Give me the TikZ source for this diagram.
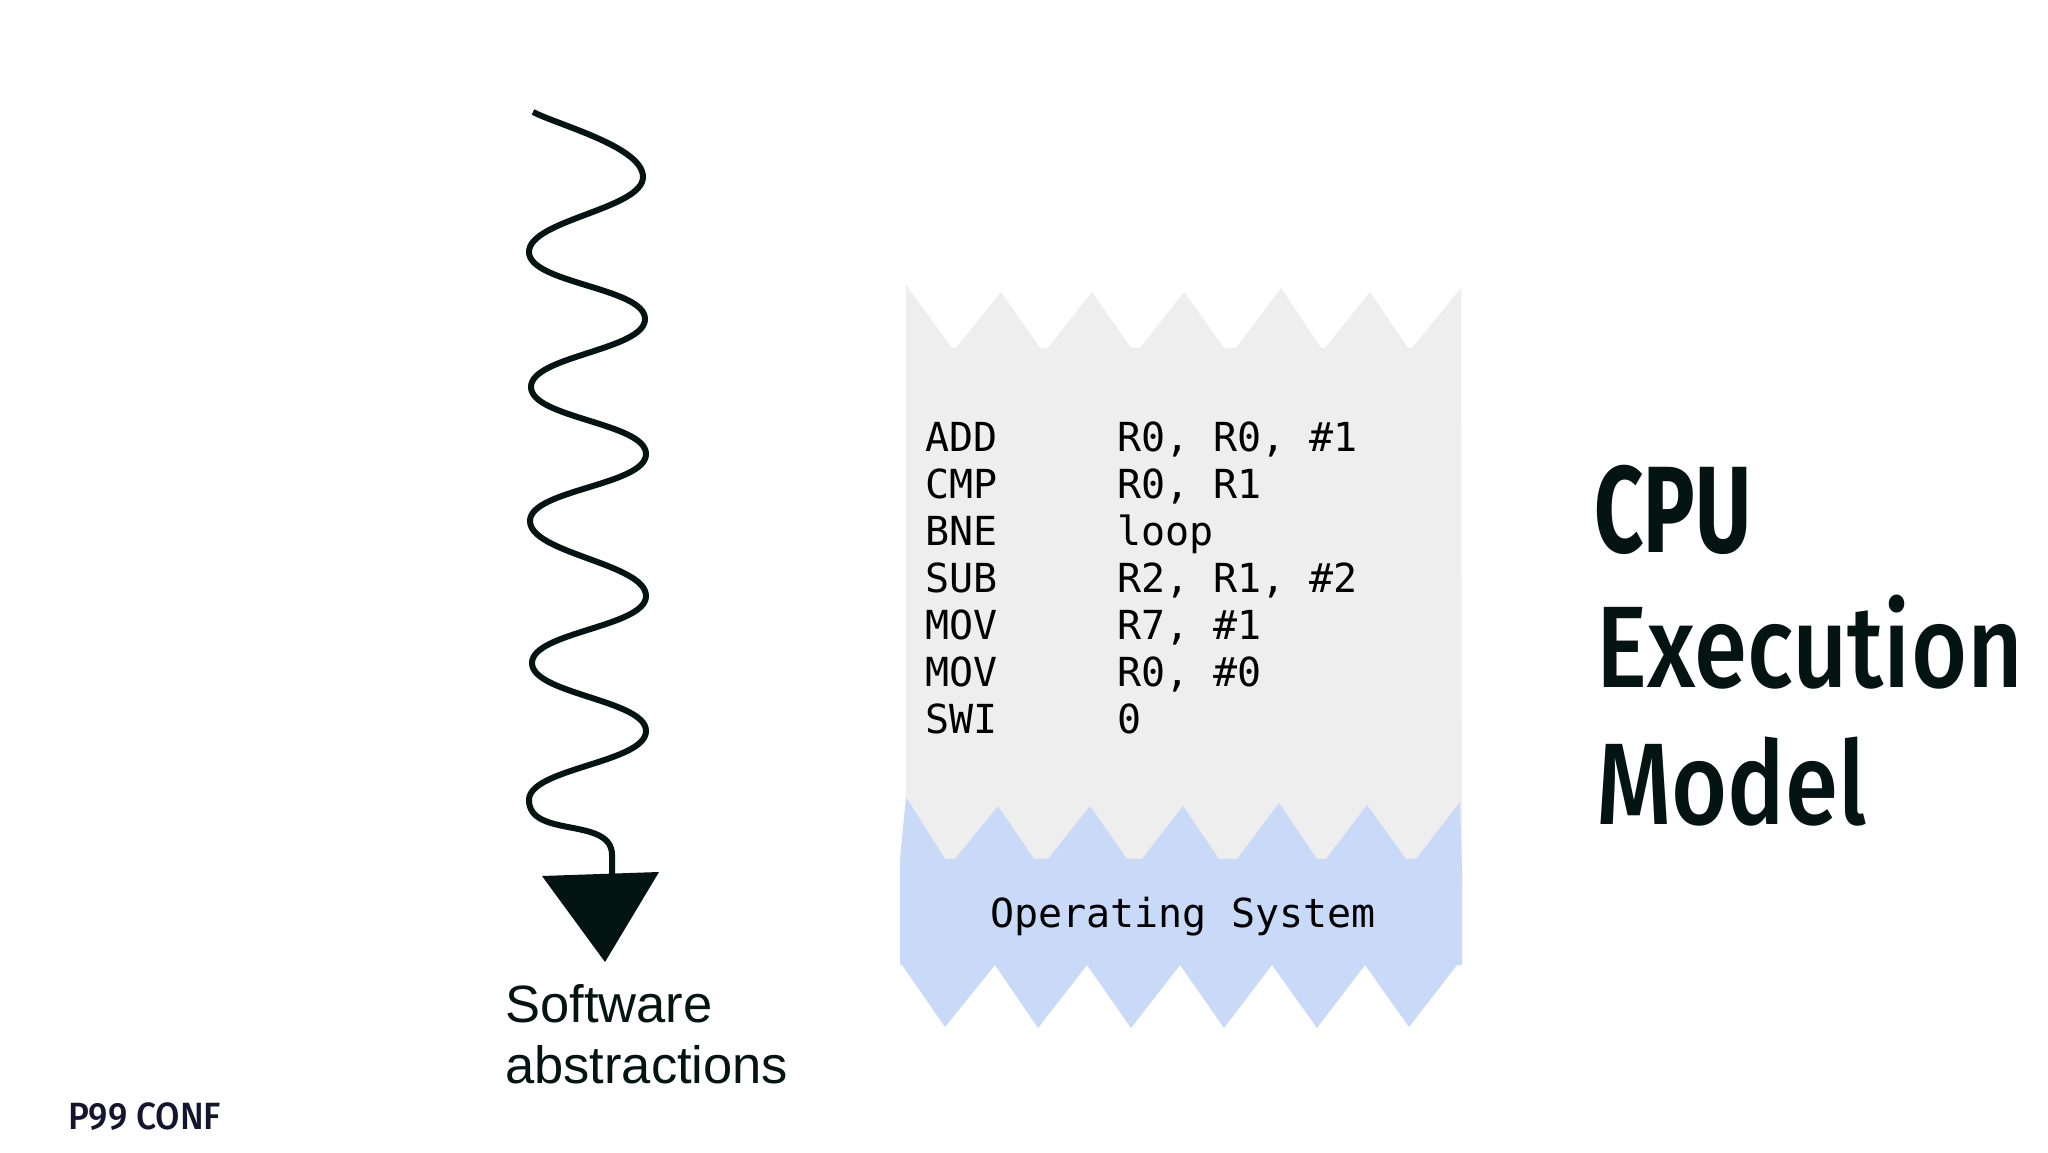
\documentclass[tikz,border=0pt]{standalone}
\usepackage{xcolor}
\usepackage{fontspec}
\setmainfont{Liberation Sans}
\newfontfamily\codefont{DejaVu Sans Mono}
\newfontfamily\titlefont[FakeStretch=0.83]{Fira Sans Medium}
\newfontfamily\cpufont[FakeStretch=0.7]{Fira Sans}
\newfontfamily\logofont[FakeStretch=0.93]{Fira Sans Medium}
\usepackage{tikz}
\definecolor{inkdark}{HTML}{041413}
\definecolor{paper}{HTML}{EEEEEE}
\definecolor{osblue}{HTML}{C9DAF8}
\definecolor{logonavy}{HTML}{14152E}
\newcommand{\instr}[2]{\makebox[192pt][l]{#1}#2}
\tikzset{
	%Define style for plain texts
	plain/.style={
		inner sep=0pt,
		anchor=base west,
		align=left},
	% Define code text
	code/.style={
		plain,
		text=black,
		font=\codefont\fontsize{40}{47}\selectfont},
	% Define slide title
	title/.style={
		plain,
		text=inkdark,
		font=\titlefont\fontsize{116}{116}\selectfont},
	% Define label text
	label text/.style={
		plain,
		text=inkdark,
		font=\fontsize{52.5}{52.5}\selectfont},
	% Define wavy line part
	wave/.style={
		out=-90,
		in=90,
		looseness=0.6}
}
\begin{document}
\begin{tikzpicture}[x=1pt,y=1pt]
		\useasboundingbox (0,0) rectangle (2048,1152);
		\fill[white] (0,0) rectangle (2048,1152);
		% torn paper with the code
		\fill[paper] (906,867) -- (952,804) -- (956,804) -- (1001,860) -- (1040,804) -- (1048,804)
		-- (1092,860) -- (1131,804) -- (1140,804) -- (1184,860) -- (1224,804) -- (1236,804)
		-- (1281,864) -- (1321,804) -- (1325,804) -- (1370,860) -- (1408,804) -- (1412,804)
		-- (1461,864) -- (1462,270) -- (906,270) -- cycle;
		% operating system strip
		\fill[osblue] (906,355) -- (945,293) -- (955,293) -- (998,346) -- (1034,293) -- (1048,293)
		-- (1090,346) -- (1127,293) -- (1142,293) -- (1183,346) -- (1219,293) -- (1237,293)
		-- (1279,349) -- (1317,293) -- (1326,293) -- (1367,347) -- (1406,293) -- (1416,293)
		-- (1460,350) -- (1462,282) -- (1462,187) -- (1457,187) -- (1409,125) -- (1365,187)
		-- (1317,124) -- (1272,187) -- (1224,124) -- (1180,187) -- (1131,124) -- (1087,187)
		-- (1038,124) -- (995,187) -- (945,125) -- (902,187) -- (900,187) -- (900,293) -- cycle;
		%nodes
		\node[code, anchor=north west] (program) at (925,730.4) {%
			\instr{ADD}{R0, R0, \#1}\\
			\instr{CMP}{R0, R1}\\
			\instr{BNE}{loop}\\
			\instr{SUB}{R2, R1, \#2}\\
			\instr{MOV}{R7, \#1}\\
			\instr{MOV}{R0, \#0}\\
			\instr{SWI}{0}};
		\node[code] (os) at (990,225) {Operating System};
		\node[title, font=\cpufont\bfseries\fontsize{123}{123}\selectfont] (cpu) at (1594,599) {CPU};
		\node[title] (execution) at (1596,464) {Execution};
		\node[title] (model) at (1596,327) {Model};
		\node[label text] (software) at (505,130) {Software};
		\node[label text] (abstractions) at (505,69) {abstractions};
		\node[plain, text=logonavy, font=\logofont\fontsize{38}{38}\selectfont] (logo) at (68,23) {P99 CONF};
		% wavy arrow, from top to the triangle
		\coordinate (wavestart) at (533,1040);
		\coordinate (wavebend) at (612,297);
		\coordinate (waveend) at (612,276);
		\coordinate (tipleft) at (542,276);
		\coordinate (tipright) at (659,280);
		\coordinate (tip) at (605,190);
		\draw[inkdark, line width=6pt] (wavestart) to[out=-27, in=90, looseness=0.6] (643,975)
		to[wave] (529,900) to[wave] (645,833) to[wave] (531,765) to[wave] (646,698)
		to[wave] (530,631) to[wave] (646,556) to[wave] (532,489) to[wave] (646,421)
		to[wave] (529,352) to[out=-90, in=90, looseness=1] (wavebend) -- (waveend);
		\fill[inkdark] (tipleft) -- (tipright) -- (tip) -- cycle;
		\end{tikzpicture}
\end{document}
